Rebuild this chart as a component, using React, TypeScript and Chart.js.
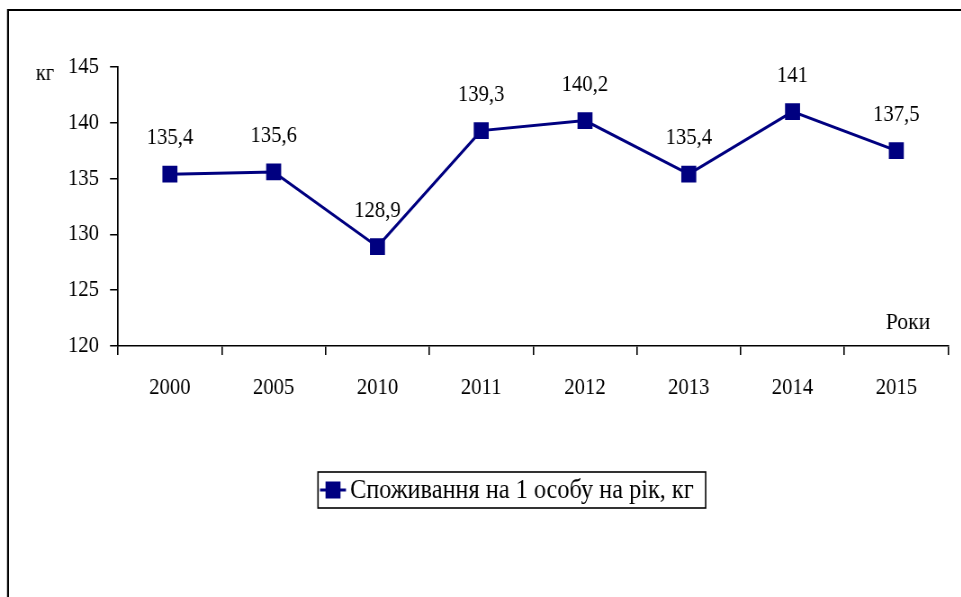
import React, { useEffect, useRef } from "react";
import { Chart, registerables } from "chart.js";

Chart.register(...registerables);

const categories = ["2000", "2005", "2010", "2011", "2012", "2013", "2014", "2015"];
const consumption = [135.4, 135.6, 128.9, 139.3, 140.2, 135.4, 141, 137.5];
const seriesName = "Споживання на 1 особу на рік, кг";
const yUnit = "кг";
const xTitle = "Роки";
const yMin = 120;
const yMax = 145;
const yStep = 5;

const FONT = "'Liberation Serif', 'Times New Roman', serif";
const NAVY = "#000080";
const K = 0.9; // horizontal compression of the original picture
const W = Math.round(961 / K);
const H = 597;
const sx = (v: number) => v / K;

const fmt = (v: number) => String(v).replace(".", ",");

const extras = {
  id: "extras",
  afterDraw(chart: any) {
    const ctx = chart.ctx as CanvasRenderingContext2D;
    const area = chart.chartArea;
    ctx.save();
    // frame
    ctx.strokeStyle = "#000";
    ctx.lineWidth = 2.2;
    ctx.beginPath();
    ctx.moveTo(sx(8), 700);
    ctx.lineTo(sx(8), 10);
    ctx.lineTo(W + 20, 10);
    ctx.stroke();

    // data labels
    const meta = chart.getDatasetMeta(0);
    ctx.fillStyle = "#000";
    ctx.font = `23px ${FONT}`;
    ctx.textAlign = "center";
    ctx.textBaseline = "middle";
    meta.data.forEach((pt: any, i: number) => {
      ctx.fillText(fmt(consumption[i]), pt.x, pt.y - 36);
    });

    // axis titles
    ctx.font = `23px ${FONT}`;
    ctx.fillText(yUnit, sx(45), 74);
    ctx.font = `24px ${FONT}`;
    ctx.fillText(xTitle, sx(908), area.bottom - 23);

    // legend
    ctx.font = `27px ${FONT}`;
    const tw = ctx.measureText(seriesName).width;
    const left = sx(318);
    const top = 472;
    const h = 36;
    const textX = left + sx(32);
    const w = textX - left + tw + sx(12);
    ctx.lineWidth = 1.6;
    ctx.strokeStyle = "#000";
    ctx.strokeRect(left, top, w, h);
    const cy = top + h / 2;
    ctx.strokeStyle = NAVY;
    ctx.lineWidth = 3;
    ctx.beginPath();
    ctx.moveTo(left + sx(2), cy);
    ctx.lineTo(left + sx(28), cy);
    ctx.stroke();
    ctx.fillStyle = NAVY;
    ctx.fillRect(left + sx(15) - sx(7.5), cy - 8.5, sx(15), 17);
    ctx.fillStyle = "#000";
    ctx.textAlign = "left";
    ctx.fillText(seriesName, textX, cy + 1);
    ctx.restore();
  },
};

export default function App() {
  const ref = useRef<HTMLCanvasElement | null>(null);

  useEffect(() => {
    if (!ref.current) return;
    const chart = new Chart(ref.current, {
      type: "line",
      data: {
        labels: categories,
        datasets: [
          {
            label: seriesName,
            data: consumption,
            borderColor: NAVY,
            backgroundColor: NAVY,
            borderWidth: 3,
            tension: 0,
            pointStyle: "rect",
            pointRadius: 11.8,
            pointBorderWidth: 0,
            pointBackgroundColor: NAVY,
            pointBorderColor: NAVY,
          },
        ],
      },
      options: {
        responsive: false,
        animation: false,
        devicePixelRatio: 1,
        layout: { padding: { left: 0, top: 67, right: sx(13), bottom: 200 } },
        plugins: {
          legend: { display: false },
          tooltip: { enabled: false },
        },
        scales: {
          x: {
            type: "category",
            offset: true,
            afterFit: (s: any) => {
              s.height = 51;
            },
            grid: {
              offset: true,
              drawOnChartArea: false,
              drawTicks: true,
              tickLength: 9,
              color: "#000",
              lineWidth: 1.6,
            },
            border: { color: "#000", width: 1.5 },
            ticks: {
              color: "#000",
              font: { family: FONT, size: 23 },
              padding: 19,
              maxRotation: 0,
            },
          },
          y: {
            min: yMin,
            max: yMax,
            afterFit: (s: any) => {
              s.width = sx(118);
            },
            grid: {
              drawOnChartArea: false,
              drawTicks: true,
              tickLength: sx(8),
              color: "#000",
              lineWidth: 1.5,
            },
            border: { color: "#000", width: 1.7 },
            ticks: {
              stepSize: yStep,
              color: "#000",
              font: { family: FONT, size: 23 },
              padding: sx(11),
            },
          },
        },
      },
      plugins: [extras],
    });
    return () => chart.destroy();
  }, []);

  return (
    <div
      style={{
        position: "absolute",
        left: 0,
        top: 0,
        width: 961,
        height: 597,
        overflow: "hidden",
        background: "#fff",
      }}
    >
      <canvas
        ref={ref}
        width={W}
        height={H}
        style={{ display: "block", transform: `scaleX(${K})`, transformOrigin: "0 0" }}
      />
    </div>
  );
}
